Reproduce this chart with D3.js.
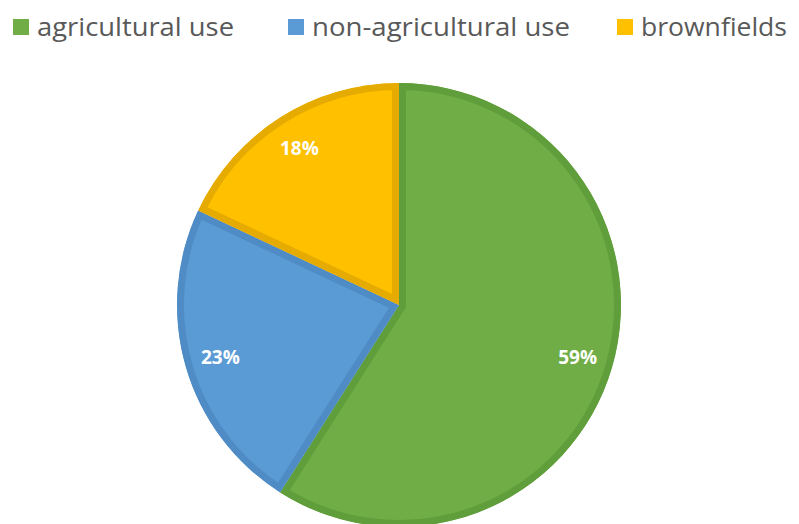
<!DOCTYPE html>
<html lang="en">
<head>
  <meta charset="utf-8" />
  <style>
    body { margin: 0; background: #fff; }
    text { font-family: "Open Sans", "DejaVu Sans", sans-serif; }
  </style>
</head>
<body>
<script src="https://d3js.org/d3.v7.min.js"></script>
<script>
var categories = ["agricultural use", "non-agricultural use", "brownfields"];
var shares = [59, 23, 18];
var fills = ["#70ad47", "#5b9bd5", "#ffc000"];
var borders = ["#5f9e3a", "#4f8cc6", "#e6ab00"];

// legend layout (x of square, width of label)
var legendX = [13, 288, 617];
var legendW = [197, 258, 146];

var width = 799, height = 524;
var cx = 399, cy = 305, r = 222;

var svg = d3.select("body").append("svg")
  .attr("width", width)
  .attr("height", height);

var pie = d3.pie().sort(null).value(function(d){ return d; });
var arcs = pie(shares);

var arc = d3.arc().innerRadius(0).outerRadius(r);
var labelArc = d3.arc().innerRadius(186).outerRadius(186);

var defs = svg.append("defs");
defs.selectAll("clipPath")
  .data(arcs)
  .enter()
  .append("clipPath")
    .attr("id", function(d, i){ return "slice" + i; })
    .append("path")
      .attr("d", arc);

var g = svg.append("g")
  .attr("transform", "translate(" + cx + "," + cy + ")");

g.selectAll("path.slice")
  .data(arcs)
  .enter()
  .append("path")
    .attr("class", "slice")
    .attr("d", arc)
    .attr("clip-path", function(d, i){ return "url(#slice" + i + ")"; })
    .style("fill", function(d, i){ return fills[i]; })
    .style("stroke", function(d, i){ return borders[i]; })
    .style("stroke-width", 14)
    .style("stroke-linejoin", "miter");

g.selectAll("text.pct")
  .data(arcs)
  .enter()
  .append("text")
    .attr("class", "pct")
    .attr("transform", function(d){ return "translate(" + labelArc.centroid(d) + ")"; })
    .attr("text-anchor", "middle")
    .attr("dy", "0.35em")
    .style("fill", "#fff")
    .style("font-weight", "bold")
    .style("font-size", "19px")
    .text(function(d){ return d.data + "%"; });

var legend = svg.append("g").selectAll("g")
  .data(categories)
  .enter()
  .append("g");

legend.append("rect")
  .attr("x", function(d, i){ return legendX[i]; })
  .attr("y", 19)
  .attr("width", 16)
  .attr("height", 16)
  .style("fill", function(d, i){ return fills[i]; });

legend.append("text")
  .attr("x", function(d, i){ return legendX[i] + 24; })
  .attr("y", 36)
  .attr("textLength", function(d, i){ return legendW[i]; })
  .attr("lengthAdjust", "spacingAndGlyphs")
  .style("font-size", "25px")
  .style("fill", "#595959")
  .text(function(d){ return d; });
</script>
</body>
</html>
